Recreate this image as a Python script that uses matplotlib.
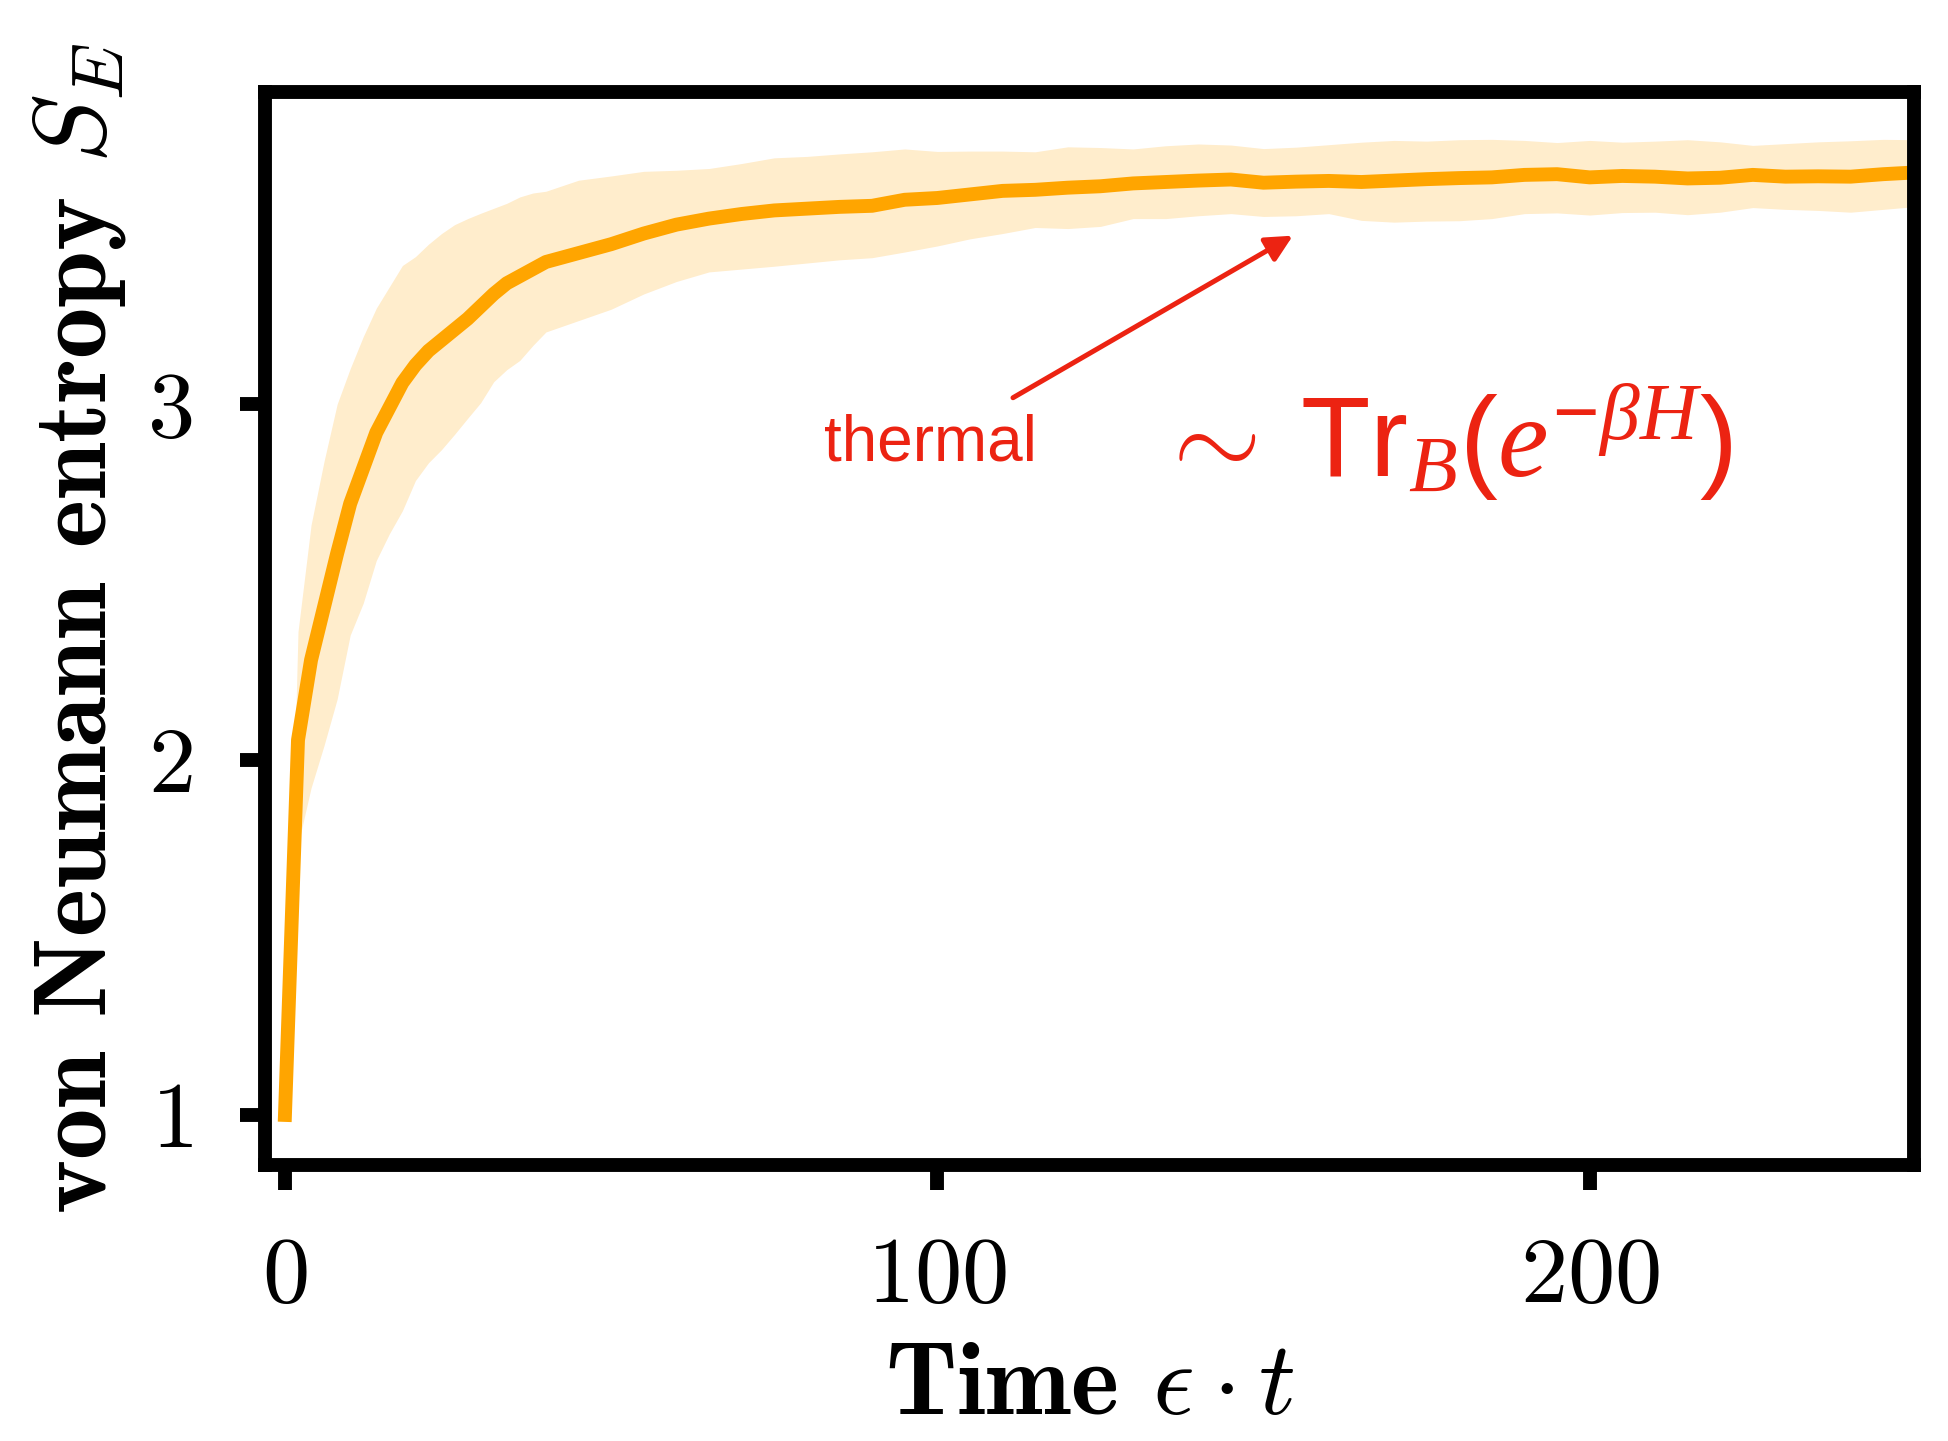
import matplotlib
matplotlib.use("Agg")
import matplotlib.pyplot as plt

plt.rcParams['font.family'] = 'serif'
plt.rcParams['font.serif'] = ['cmr10']
plt.rcParams['mathtext.fontset'] = 'cm'
plt.rcParams['axes.formatter.use_mathtext'] = True
plt.rcParams['axes.unicode_minus'] = False
# fonts for the 'custom' math set, used only by the red formula
plt.rcParams['mathtext.rm'] = 'Liberation Sans'
plt.rcParams['mathtext.it'] = 'Liberation Serif:italic'
plt.rcParams['mathtext.sf'] = 'Liberation Sans'
plt.rcParams['mathtext.bf'] = 'Liberation Sans:bold'

time = [0, 2, 4, 6, 8, 10, 12, 14, 16, 18, 20, 22, 24, 26, 28, 30, 32, 34, 36, 38, 40,
        45, 50, 55, 60, 65, 70, 75, 80, 85, 90, 95, 100, 105, 110,
        115, 120, 125, 130, 135, 140, 145, 150, 155, 160, 165, 170, 175, 180,
        185, 190, 195, 200, 205, 210, 215, 220, 225, 230, 235, 240, 245, 250]

entropy_mean = [1.00, 2.055, 2.28, 2.43, 2.58, 2.72, 2.82, 2.92, 2.99, 3.06, 3.11,
                3.15, 3.18, 3.21, 3.24, 3.275, 3.31, 3.34, 3.36, 3.38, 3.40,
                3.425, 3.45, 3.48, 3.505, 3.522, 3.535, 3.545, 3.55, 3.555, 3.558,
                3.575, 3.58, 3.59, 3.60,
                3.603, 3.609, 3.613, 3.621, 3.625, 3.629, 3.632, 3.623, 3.626, 3.628,
                3.625, 3.629, 3.633, 3.636, 3.638, 3.645, 3.647, 3.638, 3.642, 3.640,
                3.635, 3.637, 3.645, 3.640, 3.641, 3.640, 3.647, 3.652]

entropy_upper = [1.00, 2.36, 2.66, 2.84, 3.00, 3.10, 3.19, 3.27, 3.33, 3.39, 3.415,
                 3.45, 3.48, 3.505, 3.522, 3.537, 3.551, 3.565, 3.583, 3.594, 3.599,
                 3.63, 3.642, 3.655, 3.658, 3.663, 3.677, 3.693, 3.697, 3.704, 3.71,
                 3.718, 3.711, 3.712, 3.712,
                 3.71, 3.724, 3.722, 3.718, 3.727, 3.732, 3.729, 3.719, 3.723, 3.73,
                 3.737, 3.742, 3.740, 3.744, 3.745, 3.742, 3.736, 3.742, 3.737, 3.740,
                 3.744, 3.738, 3.728, 3.733, 3.738, 3.741, 3.745, 3.744]

entropy_lower = [1.00, 1.76, 1.92, 2.04, 2.17, 2.35, 2.44, 2.56, 2.635, 2.70, 2.785,
                 2.835, 2.872, 2.915, 2.96, 3.004, 3.063, 3.097, 3.123, 3.165, 3.203,
                 3.235, 3.267, 3.31, 3.345, 3.372, 3.38, 3.388, 3.397, 3.406, 3.412,
                 3.428, 3.445, 3.465, 3.48,
                 3.497, 3.494, 3.50, 3.522, 3.522, 3.53, 3.536, 3.528, 3.53, 3.536,
                 3.517, 3.512, 3.515, 3.516, 3.522, 3.536, 3.538, 3.532, 3.539, 3.540,
                 3.533, 3.54, 3.553, 3.548, 3.545, 3.540, 3.548, 3.556]

xticks = [0, 100, 200]
yticks = [1, 2, 3]

red = '#EC2312'

fig = plt.figure(figsize=(9.74, 7.205), dpi=200)
ax = fig.add_axes([0.136, 0.1915, 0.8465, 0.7446])

ax.fill_between(time, entropy_lower, entropy_upper, color='orange', alpha=0.2, linewidth=0)
ax.plot(time, entropy_mean, color='orange', lw=5)

ax.set_xlim(-3.07, 249.7)
ax.set_ylim(0.859, 3.878)
ax.set_xticks(xticks)
ax.set_yticks(yticks)
for spine in ax.spines.values():
    spine.set_linewidth(5)
ax.tick_params(direction='out', length=9, width=5, labelsize=34, pad=17)

ax.set_xlabel(r'Time $\epsilon \cdot t$', fontsize=37, fontfamily='cmb10', labelpad=8)
ax.set_ylabel(r'von Neumann entropy $S_E$', fontsize=37, fontfamily='cmb10', labelpad=7)

# arrow from the label towards the plateau
ax.annotate('', xy=(154.5, 3.474), xytext=(111.6, 3.018),
            arrowprops=dict(arrowstyle='-|>', color=red, lw=1.8, mutation_scale=20,
                            shrinkA=0, shrinkB=0))
ax.text(99.0, 2.889, 'thermal', color=red, fontsize=23, family='Liberation Sans',
        ha='center', va='center')
ax.text(133.5, 2.796, r'$\sim\;\mathsf{Tr}_B(e^{-\beta H})$', color=red, fontsize=41,
        math_fontfamily='custom', ha='left', va='baseline')

fig.savefig('out.png', dpi=200)
